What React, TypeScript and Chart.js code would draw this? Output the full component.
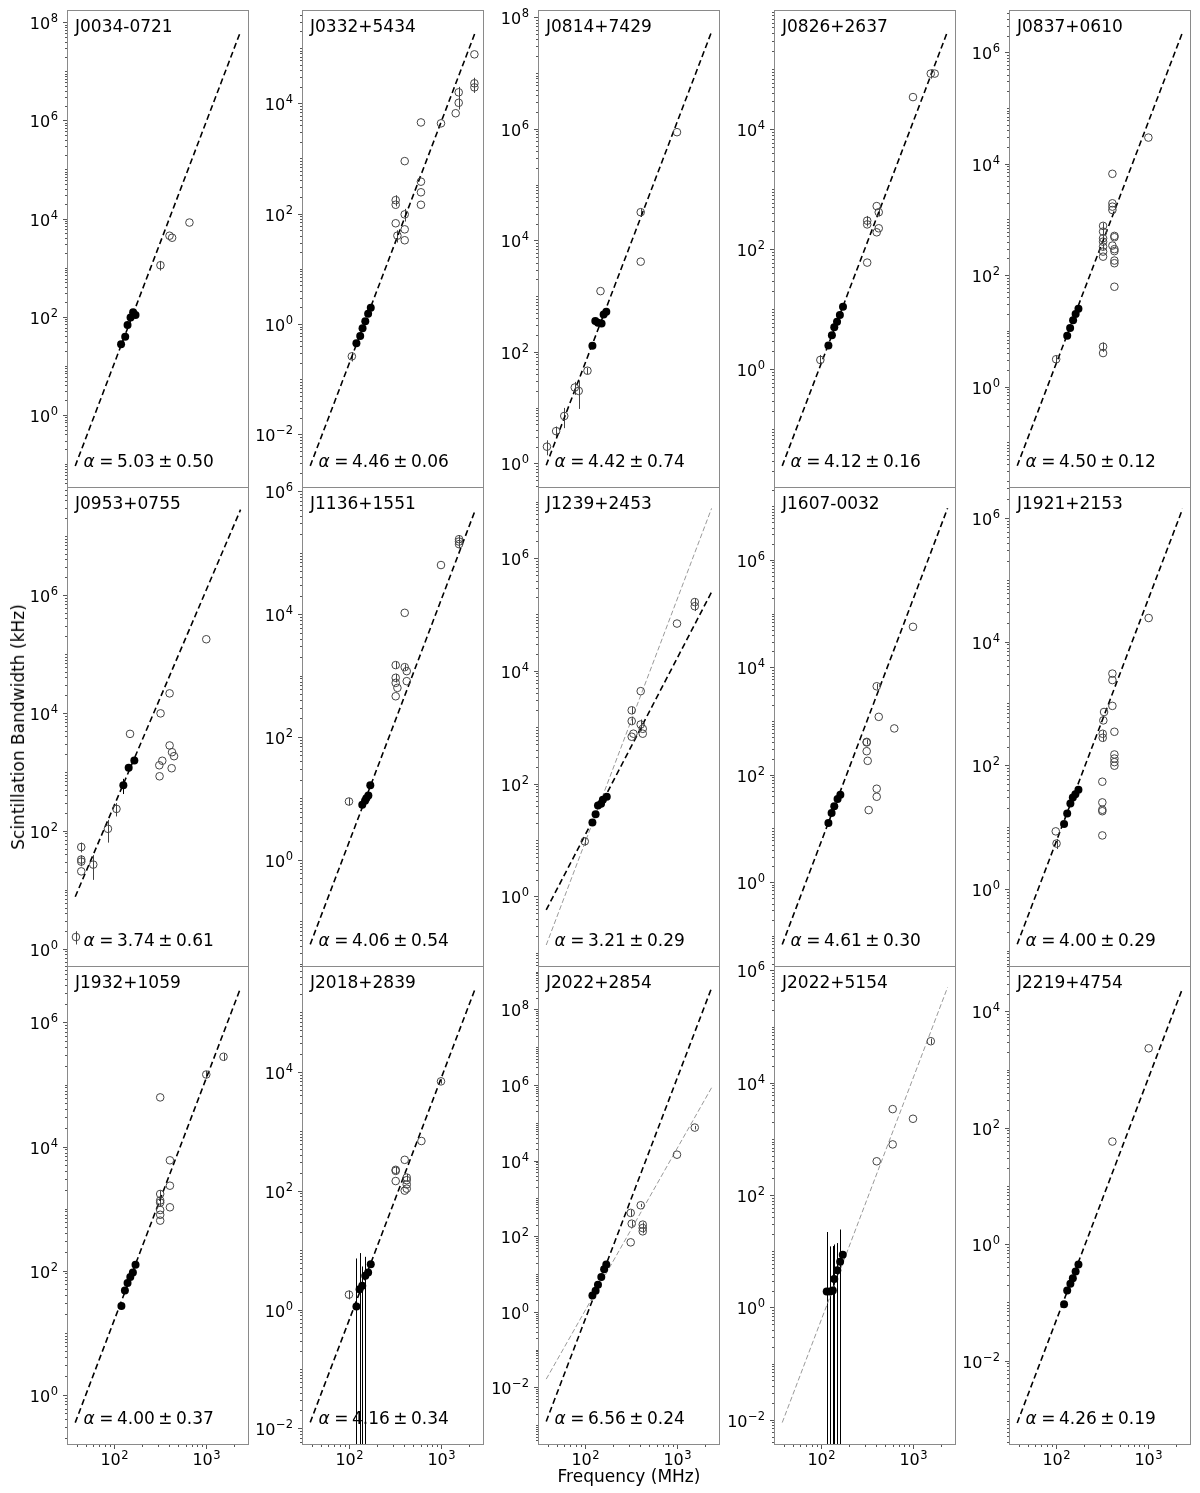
import React, { useEffect, useRef } from "react";
import { Chart, registerables } from "chart.js";

Chart.register(...registerables);

// ---------------- data ----------------
const PULSARS = [
  "J0034-0721", "J0332+5434", "J0814+7429", "J0826+2637", "J0837+0610",
  "J0953+0755", "J1136+1551", "J1239+2453", "J1607-0032", "J1921+2153",
  "J1932+1059", "J2018+2839", "J2022+2854", "J2022+5154", "J2219+4754",
];
const ALPHA_VALUE = ["5.03", "4.46", "4.42", "4.12", "4.50", "3.74", "4.06", "3.21", "4.61", "4.00", "4.00", "4.16", "6.56", null, "4.26"];
const ALPHA_ERROR = ["0.50", "0.06", "0.74", "0.16", "0.12", "0.61", "0.54", "0.29", "0.30", "0.29", "0.37", "0.34", "0.24", null, "0.19"];

const FREQ_MIN = 31.2;
const FREQ_MAX = 2905;
const FIT_FREQ = [38.3, 2355];
const X_MAJOR_TICKS = [100, 1000];
const X_MINOR_TICKS = [40, 50, 60, 70, 80, 90, 200, 300, 400, 500, 600, 700, 800, 900, 2000];

const Y_LOG_MIN = [-1.49, -2.97, -0.44, -1.98, -1.82, -0.31, -1.745, -1.25, -1.58, -1.265, -0.81, -2.28, -3.49, -2.45, -3.45];
const Y_LOG_MAX = [8.25, 5.69, 8.13, 5.99, 6.76, 7.83, 6.07, 7.26, 7.36, 6.5, 6.91, 5.78, 9.15, 6.08, 4.78];

const FILLED_FREQ = [
  [120, 133, 141, 152, 162, 172],
  [121, 133, 141, 151, 162, 173],
  [121, 130, 139, 152, 160, 171],
  [121, 132, 140, 150, 161, 174],
  [133, 143, 154, 164, 176],
  [127, 145, 167],
  [140, 150, 155, 163, 171],
  [121, 131, 139, 150, 157, 173],
  [121, 131, 140, 152, 163],
  [123, 133, 144, 153, 163, 176],
  [121, 132, 141, 151, 161, 172],
  [121, 131, 140, 151, 162, 173],
  [121, 131, 139, 151, 162, 171],
  [116, 126, 135, 140, 151, 162, 173],
  [123, 133, 144, 153, 164, 176],
];
const FILLED_BW = [
  [27.5, 39, 68, 96, 123, 109],
  [0.45, 0.61, 0.84, 1.13, 1.54, 1.97],
  [129, 357, 332, 324, 468, 525],
  [2.5, 3.7, 5.0, 6.2, 8.0, 11],
  [8.2, 11.3, 15.5, 20, 25],
  [590, 1170, 1550],
  [7.9, 9.2, 10.1, 11.2, 16.3],
  [20.6, 28.7, 41, 44, 52, 58.5],
  [12.6, 19.5, 26, 35.5, 42.6],
  [11.2, 16.6, 24, 30, 34, 40],
  [27, 48, 63, 79, 93, 124],
  [1.12, 2.2, 2.5, 3.7, 4.2, 5.8],
  [2.7, 3.6, 5.2, 8.3, 13.4, 18],
  [1.92, 1.92, 2.0, 3.2, 4.6, 6.5, 8.7],
  [0.093, 0.16, 0.21, 0.26, 0.34, 0.45],
];
const FILLED_ERR = [
  [], [], [], [], [],
  [170, 0, 0], [], [], [], [],
  [], [6.1, 6.7, 2.8, 4.0, 0, 0], [], [20.1, 10.3, 10.4, 10.0, 9.4, 17.9, 0], [],
];

const OPEN_FREQ = [
  [320, 401, 428, 659],
  [108, 322, 322, 322, 336, 403, 403, 403, 403, 604, 604, 604, 604, 995, 1435, 1547, 1547, 2287, 2287, 2287],
  [39, 49, 60, 78, 86, 107, 148, 403, 403, 995],
  [99, 318, 318, 318, 403, 424, 424, 403, 995, 1550, 1710],
  [101, 325, 325, 325, 325, 325, 325, 325, 325, 325, 410, 410, 410, 410, 410, 431, 431, 431, 431, 431, 431, 431, 1005],
  [39, 44.5, 44.5, 44.5, 44.5, 60, 86.5, 107, 150, 313, 311, 335, 321, 402, 402, 427, 449, 423, 1002],
  [100.5, 322, 322, 322, 322, 336, 403, 403, 424, 424, 995, 1560, 1560, 1560],
  [100, 322, 322, 322, 336, 403, 403, 424, 424, 995, 1550, 1550],
  [314, 314, 314, 322, 330, 403, 424, 403, 403, 624, 995],
  [100, 102, 319, 319, 319, 319, 319, 327, 333, 322, 322, 410, 410, 410, 431, 431, 431, 431, 431, 1012],
  [318, 318, 318, 318, 318, 318, 318, 405, 405, 405, 1002, 1540],
  [100.5, 322, 322, 322, 403, 424, 424, 424, 424, 403, 611, 995],
  [314, 322, 314, 403, 424, 424, 424, 995, 1550],
  [403, 600, 600, 995, 1550],
  [410, 1012],
];
const OPEN_BW = [
  [1120, 4470, 4070, 8300],
  [0.26, 176, 145, 67, 40, 895, 97, 52, 33, 4500, 380, 244, 145, 4330, 6600, 15800, 10200, 77000, 23000, 19400],
  [2.0, 3.8, 7.1, 23, 20, 46, 1230, 32000, 4150, 870000],
  [1.43, 300, 260, 60, 525, 415, 224, 192, 34500, 85000, 85000],
  [3.1, 5.2, 4.0, 768, 605, 460, 400, 325, 265, 215, 6600, 1950, 1700, 1480, 340, 507, 480, 293, 270, 183, 164, 62, 29500],
  [1.58, 53, 32.5, 30, 20.5, 26.7, 108, 235, 4400, 840, 1290, 1540, 9800, 21400, 2800, 2150, 1840, 1150, 177000],
  [8.9, 1480, 920, 760, 460, 630, 10500, 1370, 1180, 810, 63000, 166000, 152000, 138000],
  [9.5, 2000, 1290, 680, 770, 4370, 1120, 940, 770, 69000, 166000, 140000],
  [410, 400, 275, 182, 22, 4450, 1200, 55, 39, 730, 57000],
  [8.5, 5.4, 54, 25, 19, 18, 7.3, 530, 725, 322, 277, 3030, 2380, 910, 347, 149, 128, 112, 98, 24000],
  [62000, 1720, 1350, 1250, 950, 795, 640, 6000, 2340, 1050, 145000, 280000],
  [1.78, 224, 215, 145, 330, 166, 150, 127, 108, 100, 684, 6900],
  [415, 215, 69, 660, 203, 165, 135, 14400, 75000],
  [400, 3400, 800, 2290, 55000],
  [58, 2320],
];
const OPEN_ERR = [
  [250, 0, 0, 0],
  [0.05, 40, 0, 0, 10, 0, 25, 0, 0, 0, 0, 0, 0, 0, 0, 4000, 2500, 0, 6000, 4000],
  [0.6, 0.8, 2.8, 6, 10.5, 6, 0, 5000, 0, 0],
  [0.3, 60, 0, 0, 0, 60, 0, 0, 0, 15000, 0],
  [0.5, 1, 0, 100, 80, 60, 0, 40, 0, 0, 0, 0, 0, 0, 0, 0, 0, 0, 0, 0, 0, 0, 0],
  [0.4, 10, 6, 5, 0, 12, 45, 60, 0, 0, 0, 0, 0, 0, 0, 0, 0, 0, 0],
  [1.2, 200, 150, 0, 0, 0, 0, 150, 0, 0, 0, 25000, 20000, 20000],
  [1.5, 300, 200, 0, 0, 0, 250, 0, 0, 0, 30000, 25000],
  [40, 0, 0, 0, 0, 500, 0, 0, 0, 0, 0],
  [0, 1, 0, 0, 0, 0, 0, 0, 0, 40, 35, 0, 0, 0, 0, 0, 0, 0, 0, 0],
  [0, 250, 200, 150, 0, 0, 0, 0, 0, 0, 20000, 40000],
  [0.3, 30, 0, 0, 0, 25, 0, 0, 0, 0, 0, 600],
  [80, 40, 0, 60, 30, 20, 15, 0, 8000],
  [0, 0, 0, 0, 6000],
  [0, 0],
];

// fitted power laws: bandwidth at FIT_FREQ[0] and FIT_FREQ[1]
const FIT_BW = [
  [0.091, 6.5e7], [0.0027, 2.0e5], [0.93, 5.5e7], [0.0245, 4.3e5], [0.038, 2.3e6],
  [7.6, 2.8e7], [0.042, 5.1e5], [0.58, 2.5e5], [0.069, 9.2e6], [0.127, 1.4e6],
  [0.355, 3.6e6], [0.0126, 2.6e5], [0.00126, 3.7e8], null, [0.00085, 25000],
];
const FIT_GRAY_BW = [
  null, null, null, null, null,
  null, null, [0.138, 7.6e6], null, null,
  null, null, [0.0166, 8.5e5], [0.0089, 5.0e5], null,
];

// ---------------- layout ----------------
const PANEL_LEFT = [67, 302, 538, 774, 1009];
const PANEL_W = 182;
const PANEL_TOP = [10, 487, 966];
const PANEL_H = [478, 480, 479];
const PAD_L = 66, PAD_T = 12, PAD_R = 8, PAD_B = 40;
const FONT = '"DejaVu Sans", Verdana, sans-serif';

function drawPower(ctx: CanvasRenderingContext2D, exp: number, x: number, yBase: number, align: "right" | "center") {
  const base = "10";
  const sup = exp < 0 ? "\u2212" + Math.abs(exp) : String(exp);
  ctx.font = `16px ${FONT}`;
  const wb = ctx.measureText(base).width;
  ctx.font = `11.5px ${FONT}`;
  const ws = ctx.measureText(sup).width;
  const total = wb + ws + 0.5;
  const x0 = align === "right" ? x - total : x - total / 2;
  ctx.textAlign = "left";
  ctx.textBaseline = "alphabetic";
  ctx.fillStyle = "#000";
  ctx.font = `16px ${FONT}`;
  ctx.fillText(base, x0, yBase);
  ctx.font = `11.5px ${FONT}`;
  ctx.fillText(sup, x0 + wb + 0.5, yBase - 6.5);
}

function makeDecor(i: number) {
  const row = Math.floor(i / 5);
  return {
    id: "decor" + i,
    beforeDatasetsDraw(chart: any) {
      const { ctx, chartArea: ca, scales } = chart;
      const xs = scales.x, ys = scales.y;
      ctx.save();
      ctx.beginPath();
      ctx.rect(ca.left, ca.top, ca.right - ca.left, ca.bottom - ca.top);
      ctx.clip();
      chart.data.datasets.forEach((ds: any) => {
        if (!ds.errs) return;
        ctx.strokeStyle = ds.errColor;
        ctx.lineWidth = 1;
        ds.data.forEach((p: any, k: number) => {
          const e = ds.errs[k];
          if (!e) return;
          const px = Math.round(xs.getPixelForValue(p.x)) + 0.5;
          const hi = ys.getPixelForValue(p.y + e);
          const lo = p.y - e > 0 ? ys.getPixelForValue(p.y - e) : ca.bottom + 20;
          ctx.beginPath();
          ctx.moveTo(px, hi);
          ctx.lineTo(px, lo);
          ctx.stroke();
        });
      });
      ctx.restore();
    },
    afterDraw(chart: any) {
      const { ctx, chartArea: ca, scales } = chart;
      const xs = scales.x, ys = scales.y;
      ctx.save();
      // frame
      ctx.strokeStyle = "#8a8a8a";
      ctx.lineWidth = 1;
      ctx.strokeRect(ca.left + 0.5, ca.top + 0.5, ca.right - ca.left - 1, ca.bottom - ca.top - 1);
      // y ticks
      const lo = Y_LOG_MIN[i], hi = Y_LOG_MAX[i];
      ctx.strokeStyle = "#555";
      for (let n = Math.floor(lo); n <= Math.ceil(hi); n++) {
        for (let s = 1; s <= 9; s++) {
          const v = s * Math.pow(10, n);
          const lv = Math.log10(v);
          if (lv < lo || lv > hi) continue;
          const py = Math.round(ys.getPixelForValue(v)) + 0.5;
          const major = s === 1 && ((n % 2) + 2) % 2 === 0;
          const len = major ? 4 : 2;
          ctx.beginPath();
          ctx.moveTo(ca.left, py);
          ctx.lineTo(ca.left - len, py);
          ctx.stroke();
          if (major) drawPower(ctx, n, ca.left - 9, py + 6, "right");
        }
      }
      // x ticks (bottom row only)
      if (row === 2) {
        ctx.strokeStyle = "#555";
        X_MINOR_TICKS.forEach((v) => {
          const px = Math.round(xs.getPixelForValue(v)) + 0.5;
          ctx.beginPath();
          ctx.moveTo(px, ca.bottom);
          ctx.lineTo(px, ca.bottom + 2);
          ctx.stroke();
        });
        X_MAJOR_TICKS.forEach((v) => {
          const px = Math.round(xs.getPixelForValue(v)) + 0.5;
          ctx.beginPath();
          ctx.moveTo(px, ca.bottom);
          ctx.lineTo(px, ca.bottom + 4);
          ctx.stroke();
          drawPower(ctx, Math.round(Math.log10(v)), px, ca.bottom + 20, "center");
        });
      }
      // pulsar name
      ctx.fillStyle = "#000";
      ctx.textAlign = "left";
      ctx.textBaseline = "alphabetic";
      ctx.font = `17px ${FONT}`;
      ctx.fillText(PULSARS[i], ca.left + 8, ca.top + 22);
      // alpha label
      if (ALPHA_VALUE[i]) {
        let x0 = ca.left + 16.5;
        const yb = ca.bottom - 21;
        ctx.font = `italic 17px ${FONT}`;
        ctx.fillText("\u03b1", x0, yb);
        x0 += ctx.measureText("\u03b1").width + 4.5;
        ctx.font = `17px ${FONT}`;
        const parts = ["=", ALPHA_VALUE[i] as string, "\u00b1", ALPHA_ERROR[i] as string];
        parts.forEach((part) => {
          ctx.fillText(part, x0, yb);
          x0 += ctx.measureText(part).width + 3.5;
        });
      }
      ctx.restore();
    },
  };
}

function buildConfig(i: number): any {
  const datasets: any[] = [];
  datasets.push({
    label: "this work",
    data: FILLED_FREQ[i].map((f, k) => ({ x: f, y: FILLED_BW[i][k] })),
    errs: FILLED_ERR[i],
    errColor: "#000",
    pointRadius: 4,
    pointBackgroundColor: "#000",
    pointBorderColor: "#000",
    pointBorderWidth: 0,
    showLine: false,
  });
  datasets.push({
    label: "literature",
    data: OPEN_FREQ[i].map((f, k) => ({ x: f, y: OPEN_BW[i][k] })),
    errs: OPEN_ERR[i],
    errColor: "#444",
    pointRadius: 3.8,
    pointBackgroundColor: "rgba(0,0,0,0)",
    pointBorderColor: "#444",
    pointBorderWidth: 1,
    showLine: false,
  });
  const fit = FIT_BW[i];
  if (fit) {
    datasets.push({
      label: "fit",
      data: FIT_FREQ.map((f, k) => ({ x: f, y: fit[k] })),
      showLine: true,
      pointRadius: 0,
      borderColor: "#000",
      borderWidth: 1.6,
      borderDash: [6, 3.5],
      fill: false,
    });
  }
  const fit2 = FIT_GRAY_BW[i];
  if (fit2) {
    datasets.push({
      label: "fit all",
      data: FIT_FREQ.map((f, k) => ({ x: f, y: fit2[k] })),
      showLine: true,
      pointRadius: 0,
      borderColor: "#999",
      borderWidth: 1,
      borderDash: [5, 2.5],
      fill: false,
    });
  }
  return {
    type: "scatter",
    data: { datasets },
    options: {
      animation: false,
      responsive: false,
      maintainAspectRatio: false,
      devicePixelRatio: 1,
      layout: { padding: { left: PAD_L, top: PAD_T, right: PAD_R, bottom: PAD_B } },
      plugins: { legend: { display: false }, tooltip: { enabled: false } },
      events: [],
      scales: {
        x: { type: "logarithmic", min: FREQ_MIN, max: FREQ_MAX, display: false },
        y: { type: "logarithmic", min: Math.pow(10, Y_LOG_MIN[i]), max: Math.pow(10, Y_LOG_MAX[i]), display: false },
      },
    },
    plugins: [makeDecor(i)],
  };
}

export default function App() {
  const refs = useRef<(HTMLCanvasElement | null)[]>([]);
  useEffect(() => {
    const charts = PULSARS.map((_, i) => new Chart(refs.current[i] as HTMLCanvasElement, buildConfig(i)));
    return () => charts.forEach((c) => c.destroy());
  }, []);
  return (
    <div style={{ position: "absolute", left: 0, top: 0, width: 1200, height: 1493, background: "#fff", overflow: "hidden" }}>
      {PULSARS.map((name, i) => {
        const col = i % 5, row = Math.floor(i / 5);
        const w = PAD_L + PANEL_W + PAD_R;
        const h = PAD_T + PANEL_H[row] + PAD_B;
        return (
          <canvas
            key={name}
            ref={(el) => { refs.current[i] = el; }}
            width={w}
            height={h}
            style={{ position: "absolute", left: PANEL_LEFT[col] - PAD_L, top: PANEL_TOP[row] - PAD_T, width: w, height: h }}
          />
        );
      })}
      <div
        style={{
          position: "absolute", left: 18, top: 727, transform: "translate(-50%, -50%) rotate(-90deg)",
          font: `17px ${FONT}`, whiteSpace: "nowrap", color: "#000",
        }}
      >
        Scintillation Bandwidth (kHz)
      </div>
      <div
        style={{
          position: "absolute", left: 629, top: 1476, transform: "translate(-50%, -50%)",
          font: `17px ${FONT}`, whiteSpace: "nowrap", color: "#000",
        }}
      >
        Frequency (MHz)
      </div>
    </div>
  );
}
